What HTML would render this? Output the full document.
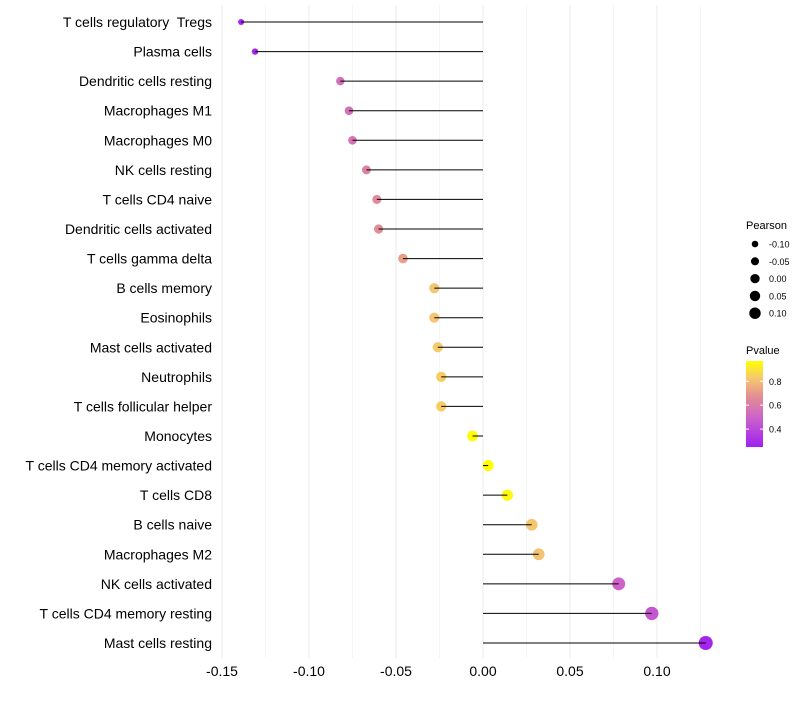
<!DOCTYPE html>
<html><head><meta charset="utf-8"><style>
body{margin:0;background:#fff;font-family:"Liberation Sans",sans-serif}
text{white-space:pre}
</style></head><body>
<svg id="c" width="800" height="700"></svg>
<script>
const categories=["T cells regulatory  Tregs","Plasma cells","Dendritic cells resting","Macrophages M1","Macrophages M0","NK cells resting","T cells CD4 naive","Dendritic cells activated","T cells gamma delta","B cells memory","Eosinophils","Mast cells activated","Neutrophils","T cells follicular helper","Monocytes","T cells CD4 memory activated","T cells CD8","B cells naive","Macrophages M2","NK cells activated","T cells CD4 memory resting","Mast cells resting"];
const pearson=[-0.139,-0.131,-0.082,-0.077,-0.075,-0.067,-0.061,-0.060,-0.046,-0.028,-0.028,-0.026,-0.024,-0.024,-0.006,0.003,0.014,0.028,0.032,0.078,0.097,0.128];
const pvalue=[0.27,0.28,0.55,0.55,0.56,0.62,0.65,0.66,0.72,0.82,0.82,0.83,0.84,0.84,0.96,0.97,0.95,0.82,0.81,0.5,0.45,0.27];
const xTicks=[-0.15,-0.10,-0.05,0.00,0.05,0.10];
const xTickLabels=["-0.15","-0.10","-0.05","0.00","0.05","0.10"];
const sizeLegend=[-0.10,-0.05,0.00,0.05,0.10];
const sizeLegendLabels=["-0.10","-0.05","0.00","0.05","0.10"];
const colorLegend=[0.4,0.6,0.8];

const NS="http://www.w3.org/2000/svg";
const svg=document.getElementById('c');
function mk(t,a,p){const e=document.createElementNS(NS,t);for(const k in a)e.setAttribute(k,a[k]);(p||svg).appendChild(e);return e;}
const X=v=>483+v*1740;
const Y=i=>22+i*(621/21);
const R=v=>Math.sqrt(Math.max(5,30+150*v));
const pMin=0.25,pMax=0.97;
const stops=[[0,[160,32,240]],[0.35,[205,100,200]],[0.6,[228,145,145]],[0.8,[245,200,110]],[1,[255,255,0]]];
function col(p){let t=(p-pMin)/(pMax-pMin);t=Math.max(0,Math.min(1,t));
for(let i=1;i<stops.length;i++){if(t<=stops[i][0]){const a=stops[i-1],b=stops[i];const f=(t-a[0])/(b[0]-a[0]);
return 'rgb('+a[1].map((c,j)=>Math.round(c+(b[1][j]-c)*f)).join(',')+')';}}return 'rgb(255,255,0)';}
for(let k=0;k<=11;k++){const v=-0.15+k*0.025;const g=mk('line',{x1:X(v),x2:X(v),y1:5,y2:658,stroke:'#ebebeb','stroke-width':k%2===0?1:0.5});

}
xTicks.forEach((v,i)=>{const t=mk('text',{x:X(v),y:676,'text-anchor':'middle','font-size':14,fill:'#000'});t.textContent=xTickLabels[i];

});
categories.forEach((c,i)=>{
const t=mk('text',{x:212,y:Y(i)+5,'text-anchor':'end','font-size':14,fill:'#000'});t.textContent=c;


const p=mk('circle',{cx:X(pearson[i]),cy:Y(i),r:R(pearson[i]),fill:col(pvalue[i])});


const l=mk('line',{x1:X(0),x2:X(pearson[i]),y1:Y(i),y2:Y(i),stroke:'#000','stroke-width':1});


});
const lt=mk('text',{x:746,y:229,'font-size':11,fill:'#000'});lt.textContent='Pearson';


sizeLegend.forEach((v,i)=>{const y=244+i*17.3;
const c=mk('circle',{cx:755,cy:y,r:R(v)*0.85,fill:'#000'});


const t=mk('text',{x:769,y:y+3.5,'font-size':9,fill:'#000'});t.textContent=sizeLegendLabels[i];

});
const ct=mk('text',{x:746,y:354,'font-size':11,fill:'#000'});ct.textContent='Pvalue';


const defs=mk('defs',{});const lg=mk('linearGradient',{id:'g',x1:0,y1:1,x2:0,y2:0},defs);
stops.forEach(s=>mk('stop',{offset:s[0],'stop-color':'rgb('+s[1].join(',')+')'},lg));
const cy0=447,cy1=361;const CY=p=>cy0-(p-pMin)/(pMax-pMin)*(cy0-cy1);
const bar=mk('rect',{x:746,y:cy1,width:17,height:cy0-cy1,fill:'url(#g)'});


colorLegend.forEach(v=>{mk('line',{x1:746,x2:749,y1:CY(v),y2:CY(v),stroke:'#fff'});mk('line',{x1:760,x2:763,y1:CY(v),y2:CY(v),stroke:'#fff'});
const t=mk('text',{x:769,y:CY(v)+3.5,'font-size':9,fill:'#000'});t.textContent=v.toFixed(1);

});
</script>
</body></html>
